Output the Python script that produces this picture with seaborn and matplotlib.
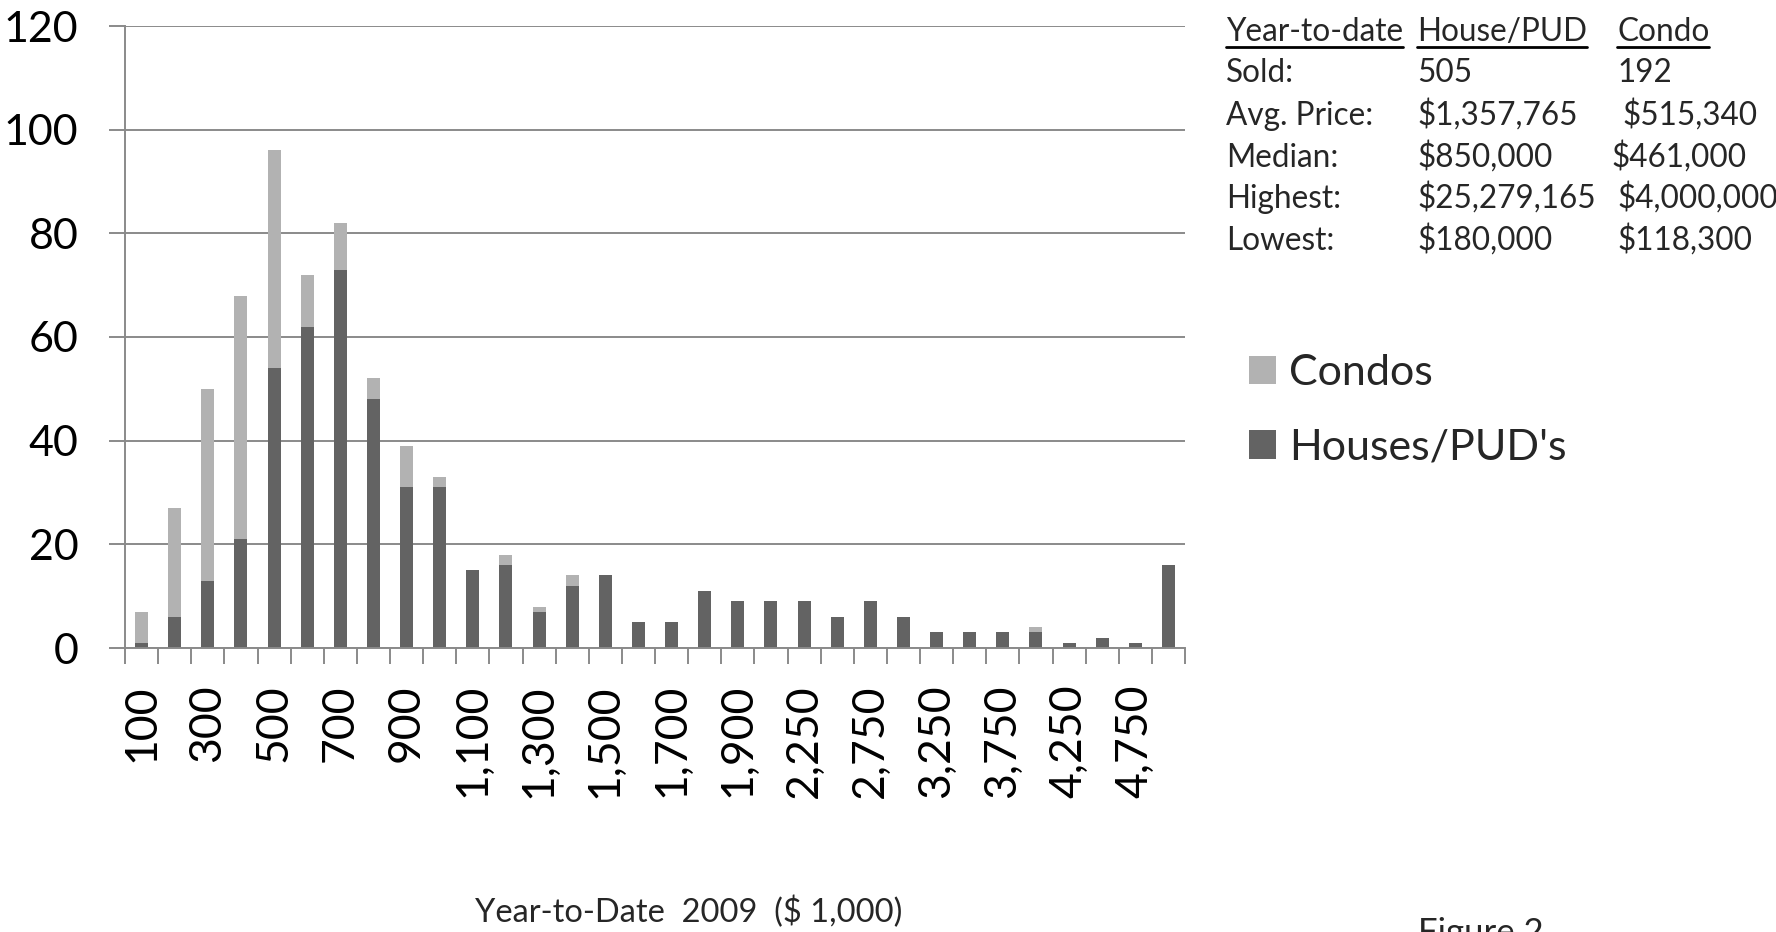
import matplotlib
matplotlib.use("Agg")
import matplotlib.pyplot as plt
import seaborn as sns
import pandas as pd
from matplotlib.patches import Patch
from matplotlib.lines import Line2D

# ---------------- data ----------------
price_bins = ["100", "200", "300", "400", "500", "600", "700", "800", "900", "1,000",
              "1,100", "1,200", "1,300", "1,400", "1,500", "1,600", "1,700", "1,800", "1,900", "2,000",
              "2,250", "2,500", "2,750", "3,000", "3,250", "3,500", "3,750", "4,000", "4,250", "4,500",
              "4,750", "5,000"]
houses = [1, 6, 13, 21, 54, 62, 73, 48, 31, 31,
          15, 16, 7, 12, 14, 5, 5, 11, 9, 9,
          9, 6, 9, 6, 3, 3, 3, 3, 1, 2,
          1, 16]
condos = [6, 21, 37, 47, 42, 10, 9, 4, 8, 2,
          0, 2, 1, 2, 0, 0, 0, 0, 0, 0,
          0, 0, 0, 0, 0, 0, 0, 1, 0, 0,
          0, 0]
y_ticks = [0, 20, 40, 60, 80, 100, 120]

table_header = ["Year-to-date", "House/PUD", "Condo"]
table_rows = ["Sold:", "Avg. Price:", "Median:", "Highest:", "Lowest:"]
table_house = ["505", "$1,357,765", "$850,000", "$25,279,165", "$180,000"]
table_condo = ["192", "$515,340", "$461,000", "$4,000,000", "$118,300"]

legend_labels = ["Condos", "Houses/PUD's"]
x_title = "Year-to-Date  2009  ($ 1,000)"
fig_caption = "Figure 2"

# ---------------- style ----------------
sns.set_style("white")
plt.rcParams["font.family"] = ["Lato", "DejaVu Sans"]

C_CONDO = "#b2b2b2"
C_HOUSE = "#636363"
C_GRID = "#8a8a8a"

W, H = 1776, 932
fig = plt.figure(figsize=(W / 100, H / 100), dpi=100)

def fx(px):
    return px / W

def fy(py):
    return 1 - py / H

ax = fig.add_axes([fx(125), fy(648), fx(1185) - fx(125), fy(26) - fy(648)])

df = pd.DataFrame({"bin": price_bins, "house": houses, "condo": condos})
df["total"] = df["house"] + df["condo"]

sns.barplot(data=df, x="bin", y="total", order=price_bins, color=C_CONDO,
            saturation=1, width=0.39, ax=ax, linewidth=0)
sns.barplot(data=df, x="bin", y="house", order=price_bins, color=C_HOUSE,
            saturation=1, width=0.39, ax=ax, linewidth=0)

n = len(price_bins)
ax.set_xlim(-0.5, n - 0.5)
ax.set_ylim(0, 120)
ax.set_xlabel("")
ax.set_ylabel("")

# y axis
ax.set_yticks(y_ticks)
ax.set_yticklabels([str(v) for v in y_ticks], fontsize=31)
ax.yaxis.grid(True, color=C_GRID, linewidth=1.4)
ax.set_axisbelow(True)
ax.tick_params(axis="y", which="major", direction="out", length=11.5, width=1.4,
               color=C_GRID, pad=22, left=True, labelcolor="black")

# x axis: labels every other bin, tick marks between bins
ax.set_xticks(range(n))
ax.set_xticklabels([lab if i % 2 == 0 else "" for i, lab in enumerate(price_bins)],
                   rotation=90, fontsize=32)
ax.set_xticks([i - 0.5 for i in range(n + 1)], minor=True)
ax.tick_params(axis="x", which="major", length=0, pad=26, labelcolor="black")
ax.tick_params(axis="x", which="minor", direction="out", length=11.5, width=1.4,
               color=C_GRID, bottom=True)

for s in ["top", "right"]:
    ax.spines[s].set_visible(False)
for s in ["left", "bottom"]:
    ax.spines[s].set_color(C_GRID)
    ax.spines[s].set_linewidth(1.4)

# ---------------- table ----------------
tfs = 22.7
row_base = [41, 82, 125, 167, 208, 250]
col_x = [1226, 1417, 1617]
condo_x = [1617, 1622, 1611, 1617, 1617]

header_texts = []
for cx, h in zip(col_x, table_header):
    header_texts.append(fig.text(fx(cx), fy(row_base[0]), h, fontsize=tfs,
                                 va="baseline", ha="left"))
for i, (r, hv, cv) in enumerate(zip(table_rows, table_house, table_condo)):
    yb = fy(row_base[i + 1])
    fig.text(fx(col_x[0]), yb, r, fontsize=tfs, va="baseline", ha="left")
    fig.text(fx(col_x[1]), yb, hv, fontsize=tfs, va="baseline", ha="left")
    fig.text(fx(condo_x[i]), yb, cv, fontsize=tfs, va="baseline", ha="left")

renderer = fig.canvas.get_renderer()
for t in header_texts:
    bb = t.get_window_extent(renderer=renderer)
    fig.add_artist(Line2D([bb.x0 / W, bb.x1 / W], [fy(47), fy(47)],
                          transform=fig.transFigure, color="black", linewidth=2.0))

# ---------------- legend ----------------
handles = [Patch(facecolor=C_CONDO, edgecolor="none"),
           Patch(facecolor=C_HOUSE, edgecolor="none")]
fig.legend(handles, legend_labels, loc="upper left", bbox_to_anchor=(fx(1249), fy(354)),
           frameon=False, fontsize=31, handlelength=0.63, handleheight=0.63,
           handletextpad=0.3, labelspacing=0.85, borderpad=0, borderaxespad=0)

# ---------------- titles ----------------
fig.text(fx(689), fy(922), x_title, fontsize=23.5, ha="center", va="baseline")
fig.text(fx(1418), fy(943), fig_caption, fontsize=25, ha="left", va="baseline")

fig.savefig("out.png", dpi=100, facecolor="white")
